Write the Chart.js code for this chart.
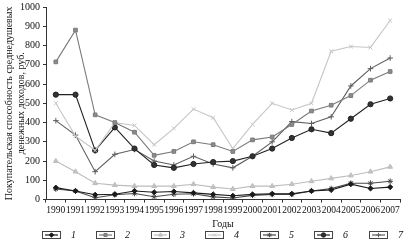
<!DOCTYPE html>
<html>
<head>
<meta charset="utf-8">
<script src="https://cdn.jsdelivr.net/npm/chart.js@4.4.0/dist/chart.umd.min.js"></script>
<style>
  html, body { margin: 0; padding: 0; background: #fff; }
  #wrap { width: 405px; height: 240px; }
</style>
</head>
<body>
<div id="wrap"><canvas id="incomeChart"></canvas></div>
<script>
// Years on the x axis
const years = ['1990', '1991', '1992', '1993', '1994', '1995', '1996', '1997', '1998',
               '1999', '2000', '2001', '2002', '2003', '2004', '2005', '2006', '2007'];

// Series values (rub.)
const series1 = [62, 45, 25, 28, 45, 38, 42, 35, 27, 20, 27, 30, 30, 45, 50, 80, 58, 65];
const series2 = [715, 880, 440, 400, 350, 230, 250, 300, 285, 250, 310, 325, 390, 460, 490, 540, 620, 665];
const series3 = [200, 145, 85, 75, 70, 70, 70, 80, 65, 55, 70, 70, 80, 95, 110, 125, 145, 170];
const series4 = [500, 330, 255, 400, 385, 285, 370, 470, 425, 265, 390, 500, 465, 500, 770, 795, 790, 930];
const series5 = [55, 45, 10, 25, 32, 15, 28, 30, 14, 8, 22, 27, 27, 45, 57, 85, 85, 95];
const series6 = [545, 545, 255, 375, 265, 180, 165, 185, 195, 200, 225, 265, 320, 365, 345, 420, 495, 525];
const series7 = [410, 335, 145, 235, 260, 200, 180, 225, 185, 165, 225, 300, 405, 395, 430, 590, 680, 735];

const legendNames = ['1', '2', '3', '4', '5', '6', '7'];
const yTicks = [0, 100, 200, 300, 400, 500, 600, 700, 800, 900, 1000];

const serif = "'Liberation Serif', 'DejaVu Serif', serif";

function makeSet(label, data, color, fill, style, radius) {
    return {
        label: label,
        data: data,
        borderColor: color,
        backgroundColor: fill,
        pointBorderColor: color,
        pointBackgroundColor: fill,
        pointStyle: style,
        pointRadius: radius,
        pointBorderWidth: 1,
        borderWidth: 1.1,
        tension: 0
    };
}

// Legend drawn by hand: a framed line + marker sample, then the italic number
const boxedLegend = {
    id: 'boxedLegend',
    afterDraw(chart) {
        const ctx = chart.ctx;
        const area = chart.chartArea;
        const step = (area.right - area.left) / 6.5;
        const by = chart.height - 9;
        const bw = 18, bh = 7;
        chart.data.datasets.forEach((ds, i) => {
            const bx = Math.round(area.left - 4 + i * step);
            ctx.save();
            ctx.strokeStyle = '#444';
            ctx.lineWidth = 1;
            ctx.strokeRect(bx + 0.5, by + 0.5, bw, bh);
            const cy = by + bh / 2 + 0.5;
            ctx.strokeStyle = ds.borderColor;
            ctx.lineWidth = 1.2;
            ctx.beginPath();
            ctx.moveTo(bx + 3, cy);
            ctx.lineTo(bx + bw - 2, cy);
            ctx.stroke();
            ctx.fillStyle = ds.pointBackgroundColor;
            ctx.strokeStyle = ds.pointBorderColor;
            ctx.lineWidth = 1;
            Chart.helpers.drawPoint(ctx, {
                pointStyle: ds.pointStyle,
                radius: 2.2,
                borderWidth: 1,
                rotation: 0
            }, bx + bw / 2 + 0.5, cy);
            ctx.fillStyle = '#111';
            ctx.font = 'italic 10px ' + serif;
            ctx.textBaseline = 'middle';
            ctx.textAlign = 'left';
            ctx.fillText(ds.label, bx + 29, cy);
            ctx.restore();
        });
    }
};

const ctx = document.getElementById('incomeChart');

new Chart(ctx, {
    type: 'line',
    data: {
        labels: years,
        datasets: [
            makeSet(legendNames[0], series1, '#1a1a1a', '#1a1a1a', 'rectRot', 2.6),
            makeSet(legendNames[1], series2, '#7a7a7a', '#8c8c8c', 'rect', 2.6),
            makeSet(legendNames[2], series3, '#bdbdbd', '#c4c4c4', 'triangle', 2.8),
            makeSet(legendNames[3], series4, '#c6c6c6', '#c6c6c6', 'crossRot', 2.8),
            makeSet(legendNames[4], series5, '#4a4a4a', '#4a4a4a', 'star', 2.8),
            makeSet(legendNames[5], series6, '#222222', '#333333', 'circle', 2.6),
            makeSet(legendNames[6], series7, '#5e5e5e', '#5e5e5e', 'cross', 2.8)
        ]
    },
    options: {
        responsive: true,
        maintainAspectRatio: false,
        animation: false,
        layout: { padding: { top: 0, right: 3, left: 0, bottom: 10 } },
        plugins: {
            tooltip: { enabled: false },
            legend: { display: false }
        },
        scales: {
            x: {
                offset: true,
                grid: {
                    display: true,
                    offset: true,
                    drawOnChartArea: false,
                    drawTicks: true,
                    tickLength: 3,
                    color: '#333'
                },
                border: { display: true, color: '#333', width: 1 },
                ticks: {
                    autoSkip: false,
                    maxRotation: 0,
                    minRotation: 0,
                    padding: 2,
                    color: '#111',
                    font: { family: serif, size: 9.5 }
                },
                title: {
                    display: true,
                    text: 'Годы',
                    color: '#111',
                    padding: { top: 0, bottom: 0 },
                    font: { family: serif, size: 10 }
                }
            },
            y: {
                min: 0,
                max: 1000,
                afterBuildTicks(axis) {
                    axis.ticks = yTicks.map(v => ({ value: v }));
                },
                grid: {
                    display: true,
                    drawOnChartArea: false,
                    drawTicks: true,
                    tickLength: 3,
                    color: '#333'
                },
                border: { display: true, color: '#333', width: 1 },
                ticks: {
                    padding: 3,
                    color: '#111',
                    font: { family: serif, size: 10, lineHeight: 0.8 },
                    callback: v => String(v)
                },
                title: {
                    display: true,
                    text: ['Покупательская способность среднедушевых', 'денежных доходов, руб.'],
                    color: '#111',
                    padding: { top: 3, bottom: -10 },
                    font: { family: serif, size: 10, lineHeight: 1.2 }
                }
            }
        }
    },
    plugins: [boxedLegend]
});
</script>
</body>
</html>
